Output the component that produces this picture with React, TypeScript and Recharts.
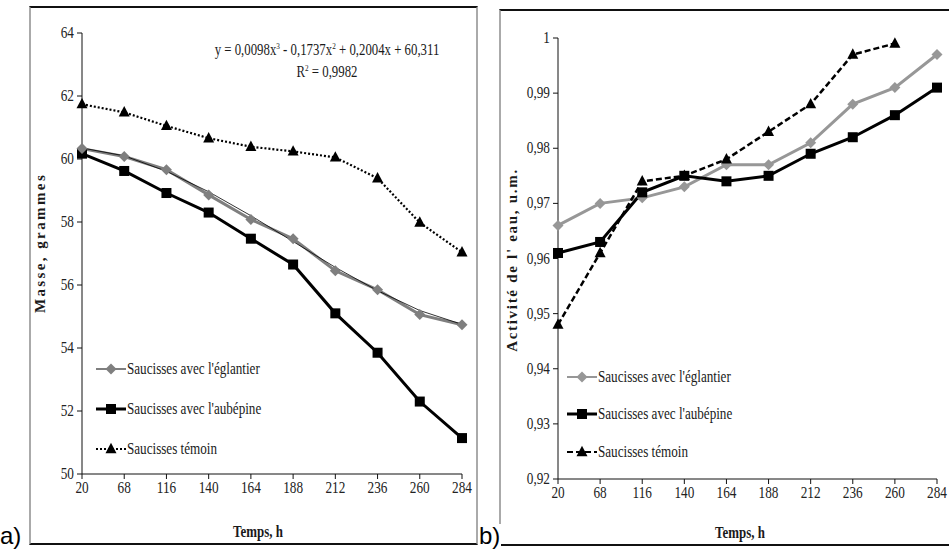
import React from "react";
import { LineChart, Line, XAxis, YAxis, Legend } from "recharts";

// time points, h
const hours = ["20", "68", "116", "140", "164", "188", "212", "236", "260", "284"];

// a) mass, grams
const massEglantier = [60.33, 60.08, 59.66, 58.86, 58.08, 57.47, 56.45, 55.85, 55.06, 54.74];
const massAubepine = [60.17, 59.62, 58.92, 58.3, 57.47, 56.65, 55.1, 53.85, 52.3, 51.14];
const massTemoin = [61.74, 61.48, 61.05, 60.66, 60.39, 60.24, 60.05, 59.39, 57.98, 57.04];
// polynomial trend line (thin black line over the grey series)
const massTrend = [60.35, 60.1, 59.61, 58.96, 58.2, 57.38, 56.56, 55.82, 55.19, 54.75];
const massTicks = [50, 52, 54, 56, 58, 60, 62, 64];

// b) water activity
const awEglantier = [0.966, 0.97, 0.971, 0.973, 0.977, 0.977, 0.981, 0.988, 0.991, 0.997];
const awAubepine = [0.961, 0.963, 0.972, 0.975, 0.974, 0.975, 0.979, 0.982, 0.986, 0.991];
const awTemoin = [0.948, 0.961, 0.974, 0.975, 0.978, 0.983, 0.988, 0.997, 0.999, null];
const awTicks = [0.92, 0.93, 0.94, 0.95, 0.96, 0.97, 0.98, 0.99, 1];

const labels = [
  "Saucisses avec l'églantier",
  "Saucisses avec l'aubépine",
  "Saucisses témoin",
];

const massData = hours.map((t, i) => ({
  t,
  eg: massEglantier[i],
  au: massAubepine[i],
  te: massTemoin[i],
  tr: massTrend[i],
}));

const awData = hours.map((t, i) => ({
  t,
  eg: awEglantier[i],
  au: awAubepine[i],
  te: awTemoin[i],
}));

const SERIF = "Liberation Serif";
const GREY_A = "#7f7f7f";
const GREY_B = "#979797";

function Diamond({ cx, cy, fill, r = 5.5 }: any) {
  if (cx == null || cy == null) return <g />;
  return (
    <path
      d={`M${cx},${cy - r} L${cx + r},${cy} L${cx},${cy + r} L${cx - r},${cy} Z`}
      fill={fill}
    />
  );
}

function Square({ cx, cy, fill, s = 10 }: any) {
  if (cx == null || cy == null) return <g />;
  return <rect x={cx - s / 2} y={cy - s / 2} width={s} height={s} fill={fill} />;
}

function Triangle({ cx, cy, fill, s = 11 }: any) {
  if (cx == null || cy == null) return <g />;
  const h = s * 0.95;
  return (
    <path
      d={`M${cx},${cy - h * 0.6} L${cx + s / 2},${cy + h * 0.4} L${cx - s / 2},${cy + h * 0.4} Z`}
      fill={fill}
    />
  );
}

const dotFn = (Shape: any, fill: string) => (p: any) =>
  <Shape key={`d-${p.index}`} cx={p.cx} cy={p.cy} fill={fill} />;

function XTick({ x, y, payload }: any) {
  return (
    <text
      transform={`translate(${x},${y + 12}) scale(0.78,1)`}
      textAnchor="middle"
      style={{ fontFamily: SERIF, fontSize: 17 }}
      fill="#222"
    >
      {payload.value}
    </text>
  );
}

function YTick({ x, y, payload, comma }: any) {
  const v = comma ? String(payload.value).replace(".", ",") : payload.value;
  return (
    <text
      transform={`translate(${x - 1},${y + 5}) scale(0.78,1)`}
      textAnchor="end"
      style={{ fontFamily: SERIF, fontSize: 17 }}
      fill="#222"
    >
      {v}
    </text>
  );
}

function makeLegend(colors: string[], dashes: (string | undefined)[], shapes: any[], rowH: number) {
  return () => (
    <div style={{ fontFamily: SERIF }}>
      {labels.map((l, i) => (
        <div key={l} style={{ display: "flex", alignItems: "center", height: rowH }}>
          <svg width={30} height={14} style={{ flex: "none" }}>
            <line
              x1={0}
              y1={7}
              x2={30}
              y2={7}
              stroke={colors[i]}
              strokeWidth={i === 1 ? 3 : 2}
              strokeDasharray={dashes[i]}
            />
            {React.createElement(shapes[i], { cx: 15, cy: 7, fill: colors[i] })}
          </svg>
          <span
            style={{
              fontFamily: SERIF,
              fontSize: 16,
              color: "#1a1a1a",
              display: "inline-block",
              transform: "scaleX(0.82)",
              transformOrigin: "left center",
              whiteSpace: "nowrap",
              marginLeft: 1,
            }}
          >
            {l}
          </span>
        </div>
      ))}
    </div>
  );
}

const abs = (s: React.CSSProperties): React.CSSProperties => ({ position: "absolute", ...s });

function Title({ x, y, children, rotate, spacing = 0, scale = 1, size = 15, bold = true }: any) {
  return (
    <div
      style={abs({
        left: x,
        top: y,
        transform: `translate(-50%,-50%) ${rotate ? "rotate(-90deg)" : ""} scaleX(${scale})`,
        fontFamily: SERIF,
        fontSize: size,
        fontWeight: bold ? "bold" : "normal",
        letterSpacing: spacing,
        whiteSpace: "nowrap",
        color: "#1a1a1a",
        lineHeight: 1,
      })}
    >
      {children}
    </div>
  );
}

export default function App() {
  return (
    <div style={{ position: "fixed", left: 0, top: 0, width: 949, height: 549, background: "#fff", overflow: "hidden", fontFamily: SERIF }}>
      {/* frames */}
      <div style={abs({ left: 29, top: 6, width: 449, height: 539, borderTop: "2px solid #111", borderLeft: "2px solid #aaa", borderRight: "2px solid #aaa", borderBottom: "2px solid #111", boxSizing: "border-box" })} />
      <div style={abs({ left: 499, top: 9, width: 460, height: 537, borderTop: "2px solid #111", borderLeft: "2px solid #aaa", borderBottom: "2px solid #111", boxSizing: "border-box" })} />

      {/* a) mass */}
      <div style={abs({ left: 29, top: 6 })}>
        <LineChart width={449} height={539} data={massData} margin={{ top: 27, right: 16, bottom: 41, left: 0 }}>
          <XAxis dataKey="t" height={30} tick={<XTick />} tickSize={5} stroke="#111" interval={0} />
          <YAxis width={53} domain={[50, 64]} ticks={massTicks} tick={<YTick />} tickSize={5} stroke="#111" interval={0} />
          <Legend
            layout="vertical"
            align="center"
            verticalAlign="middle"
            wrapperStyle={{ left: 67, top: 343, width: 200 }}
            content={makeLegend([GREY_A, "#000", "#000"], [undefined, undefined, "2 2"], [Diamond, Square, Triangle], 40)}
          />
          <Line dataKey="te" name={labels[2]} stroke="#000" strokeWidth={2.2} strokeDasharray="2 2" dot={dotFn(Triangle, "#000")} isAnimationActive={false} />
          <Line dataKey="au" name={labels[1]} stroke="#000" strokeWidth={3} dot={dotFn(Square, "#000")} isAnimationActive={false} />
          <Line dataKey="eg" name={labels[0]} stroke={GREY_A} strokeWidth={3} dot={dotFn(Diamond, GREY_A)} isAnimationActive={false} />
          <Line dataKey="tr" stroke="#000" strokeWidth={0.8} dot={false} isAnimationActive={false} legendType="none" />
        </LineChart>
      </div>

      {/* b) water activity */}
      <div style={abs({ left: 499, top: 9 })}>
        <LineChart width={450} height={536} data={awData} margin={{ top: 29, right: 12, bottom: 36, left: 0 }}>
          <XAxis dataKey="t" height={30} tick={<XTick />} tickSize={5} stroke="#111" interval={0} />
          <YAxis width={59} domain={[0.92, 1]} ticks={awTicks} tick={<YTick comma />} tickSize={5} stroke="#111" interval={0} />
          <Legend
            layout="vertical"
            align="center"
            verticalAlign="middle"
            wrapperStyle={{ left: 68, top: 349, width: 200 }}
            content={makeLegend([GREY_B, "#000", "#000"], [undefined, undefined, "6 3"], [Diamond, Square, Triangle], 37.5)}
          />
          <Line dataKey="eg" name={labels[0]} stroke={GREY_B} strokeWidth={3} dot={dotFn(Diamond, GREY_B)} isAnimationActive={false} />
          <Line dataKey="te" name={labels[2]} stroke="#000" strokeWidth={2.5} strokeDasharray="6 3" dot={dotFn(Triangle, "#000")} isAnimationActive={false} />
          <Line dataKey="au" name={labels[1]} stroke="#000" strokeWidth={3} dot={dotFn(Square, "#000")} isAnimationActive={false} />
        </LineChart>
      </div>

      {/* titles */}
      <Title x={258} y={531} size={17} scale={0.76}>Temps, h</Title>
      <Title x={740} y={532} size={17} scale={0.76}>Temps, h</Title>
      <Title x={40} y={243} rotate spacing={2.4}>Masse, grammes</Title>
      <Title x={512} y={260} rotate spacing={1.7}>Activité de l' eau, u.m.</Title>
      <Title x={327} y={50} bold={false} size={16} scale={0.8}>
        y = 0,0098x<sup style={{ fontSize: 9 }}>3</sup> - 0,1737x<sup style={{ fontSize: 9 }}>2</sup> + 0,2004x + 60,311
      </Title>
      <Title x={327} y={72} bold={false} size={16} scale={0.8}>
        R<sup style={{ fontSize: 9 }}>2</sup> = 0,9982
      </Title>

      <div style={abs({ left: 0, top: 524, fontFamily: "Liberation Sans", fontSize: 24, lineHeight: 1, background: "#fff", paddingRight: 2 })}>a)</div>
      <div style={abs({ left: 479, top: 524, fontFamily: "Liberation Sans", fontSize: 24, lineHeight: 1, background: "#fff", paddingRight: 1 })}>b)</div>
    </div>
  );
}
